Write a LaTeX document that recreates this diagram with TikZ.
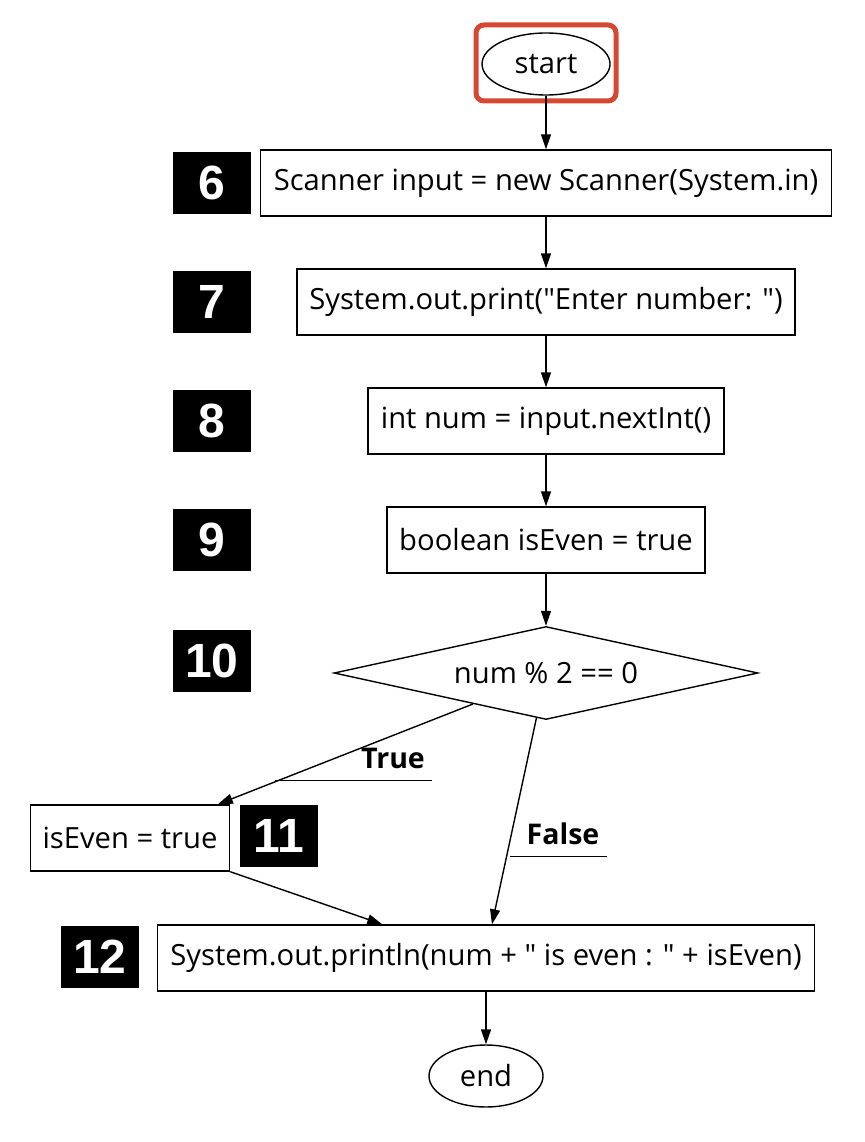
\documentclass[tikz,border=0pt]{standalone}
\usepackage{fontspec}
\setmainfont{Open Sans}[Ligatures=TeXOff]
\newfontfamily\numfont{Liberation Sans}
\usetikzlibrary{shapes,arrows.meta}
\definecolor{hlred}{RGB}{214,72,50}
\tikzstyle{stmt}=[draw,rectangle,line width=1.4pt,minimum height=66pt,inner sep=2pt,font=\fontsize{29.2}{35}\selectfont]
\tikzstyle{lineno}=[rectangle,fill=black,text=white,minimum width=78pt,minimum height=62pt,inner sep=0pt,font=\numfont\bfseries\fontsize{48}{56}\selectfont]

\begin{document}
\begin{tikzpicture}[x=1pt,y=-1pt,line width=1.4pt,>={Triangle[length=15pt,width=10pt]}]
    \tikzstyle{term}=[draw,ellipse,line width=1.4pt,inner sep=0pt,font=\fontsize{29.2}{35}\selectfont]
    \tikzstyle{edgelbl}=[inner sep=0pt,font=\bfseries\fontsize{28.5}{34}\selectfont]
    \useasboundingbox (0,0) rectangle (864,1142);

    \node[term,minimum width=128pt,minimum height=62pt] (start) at (546,64)   {start};
    \node[draw=hlred,line width=5pt,rounded corners=8pt,minimum width=140pt,minimum height=76pt] (hl) at (546,63) {};

    \node[stmt,minimum width=571pt] (S6)  at (546,183) {Scanner input = new Scanner(System.in)};
    \node[stmt,minimum width=498pt] (S7)  at (546,302) {System.out.print("Enter number: ")};
    \node[stmt,minimum width=356pt] (S8)  at (546,421) {int num = input.nextInt()};
    \node[stmt,minimum width=318pt] (S9)  at (546,540) {boolean isEven = true};
    \node[draw,diamond,line width=1.4pt,minimum width=424pt,minimum height=93pt,inner sep=0pt,aspect=4.5,font=\fontsize{29.2}{35}\selectfont] (S10) at (546,673) {num \% 2 == 0};
    \node[stmt,minimum width=199pt] (S11) at (130,838) {isEven = true};
    \node[stmt,minimum width=657pt] (S12) at (486,958) {System.out.println(num + " is even : " + isEven)};
    \node[term,minimum width=114pt,minimum height=62pt] (end) at (486,1076) {end};

    \node[lineno] (L6)  at (212,183) {6};
    \node[lineno] (L7)  at (212,302) {7};
    \node[lineno] (L8)  at (212,421) {8};
    \node[lineno] (L9)  at (212,540) {9};
    \node[lineno] (L10) at (212,661) {10};
    \node[lineno] (L11) at (279,836) {11};
    \node[lineno] (L12) at (100,957) {12};

    \draw[->] (start) -- (S6);
    \draw[->] (S6) -- (S7);
    \draw[->] (S7) -- (S8);
    \draw[->] (S8) -- (S9);
    \draw[->] (S9) -- (S10);
    \draw[->] (S10.203) -- (S11.21);
    \draw[->] (S10.258) -- (S12.80);
    \draw[->] (S11.south east) -- (S12.162);
    \draw[->] (S12) -- (end);

    \node[edgelbl] (T) at (393,758) {True};
    \coordinate (TL) at (275,780);
    \coordinate (TR) at (432,780);
    \draw[line width=1pt] (TL) -- (TR);
    \node[edgelbl] (F) at (563,834) {False};
    \coordinate (FL) at (510,856);
    \coordinate (FR) at (607,856);
    \draw[line width=1pt] (FL) -- (FR);
\end{tikzpicture}
\end{document}
